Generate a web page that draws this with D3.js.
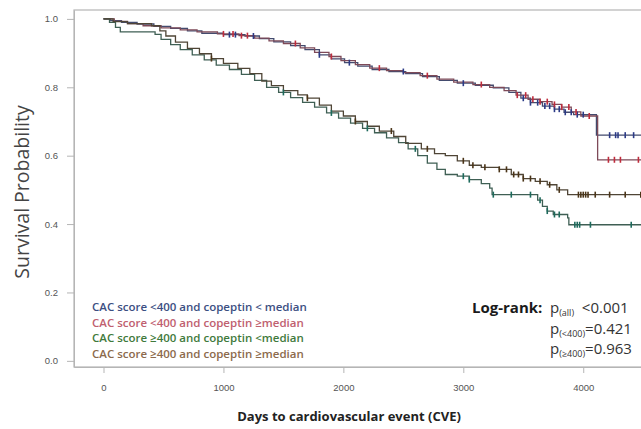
<!DOCTYPE html>
<html>
<head>
<meta charset="utf-8">
<script src="https://cdn.jsdelivr.net/npm/d3@7"></script>
<style>
  body { margin: 0; background: #fff; }
  svg { display: block; font-family: "Open Sans", "DejaVu Sans", sans-serif; }
</style>
</head>
<body>
<div id="chart"></div>
<script>
const width = 641, height = 429;

// Kaplan-Meier step points: [day, survival]
const lowLow = [[0,1],[60,0.995],[150,0.99],[280,0.985],[420,0.978],[560,0.972],[700,0.965],[820,0.958],[1000,0.954],[1180,0.95],[1300,0.942],[1420,0.933],[1560,0.922],[1680,0.91],[1800,0.895],[1900,0.883],[2010,0.872],[2120,0.862],[2240,0.852],[2380,0.846],[2520,0.84],[2660,0.831],[2800,0.82],[2950,0.812],[3100,0.806],[3250,0.798],[3380,0.785],[3480,0.768],[3560,0.755],[3660,0.745],[3760,0.736],[3840,0.727],[3920,0.72],[4110,0.66],[4600,0.66]];
const lowHigh = [[0,1],[90,0.993],[200,0.986],[330,0.98],[480,0.974],[640,0.968],[780,0.962],[950,0.956],[1130,0.951],[1260,0.944],[1380,0.936],[1500,0.928],[1640,0.915],[1760,0.902],[1880,0.89],[1980,0.878],[2100,0.866],[2220,0.856],[2360,0.849],[2500,0.843],[2640,0.834],[2780,0.824],[2920,0.815],[3080,0.808],[3220,0.8],[3340,0.79],[3440,0.777],[3540,0.765],[3640,0.758],[3740,0.75],[3820,0.742],[3900,0.728],[3980,0.716],[4120,0.588],[4600,0.588]];
const highLow = [[0,1],[50,0.99],[100,0.975],[140,0.962],[430,0.955],[480,0.94],[560,0.925],[640,0.91],[740,0.895],[840,0.88],[940,0.865],[1050,0.852],[1150,0.838],[1260,0.82],[1360,0.8],[1460,0.785],[1560,0.77],[1660,0.756],[1760,0.742],[1860,0.725],[1960,0.71],[2060,0.695],[2160,0.68],[2260,0.667],[2360,0.652],[2460,0.638],[2540,0.62],[2620,0.6],[2700,0.578],[2780,0.56],[2850,0.545],[2950,0.54],[3050,0.53],[3150,0.518],[3220,0.505],[3240,0.486],[3620,0.47],[3660,0.452],[3700,0.438],[3750,0.428],[3870,0.418],[3880,0.398],[4600,0.398]];
const highHigh = [[0,1],[80,0.992],[200,0.986],[400,0.98],[470,0.965],[520,0.95],[600,0.932],[700,0.914],[800,0.898],[900,0.884],[1000,0.87],[1120,0.855],[1220,0.84],[1320,0.818],[1400,0.805],[1500,0.79],[1620,0.778],[1700,0.768],[1800,0.748],[1900,0.73],[2000,0.716],[2100,0.7],[2200,0.686],[2300,0.672],[2420,0.656],[2520,0.636],[2650,0.62],[2760,0.606],[2850,0.6],[2950,0.585],[3050,0.572],[3150,0.566],[3300,0.56],[3400,0.545],[3500,0.533],[3600,0.525],[3700,0.515],[3780,0.5],[3870,0.486],[4600,0.486]];

// Censoring times (days)
const cLowLow = [1050,1100,1250,1800,2050,2500,3000,3500,3560,3620,3680,3720,3760,3800,3850,3900,3950,4000,4220,4270,4290,4350,4420];
const cLowHigh = [1000,1080,1150,1200,1600,1900,2300,2700,3150,3450,3520,3580,3640,3700,3760,3820,3880,3940,4050,4210,4260,4310,4460];
const cHighLow = [1500,1900,2200,2600,3000,3050,3250,3400,3560,3640,3700,3760,3800,3930,3950,3970,4060,4400];
const cHighHigh = [900,1700,2100,2400,2700,3000,3080,3180,3300,3360,3420,3460,3500,3560,3640,3720,3800,3960,3980,4000,4020,4040,4100,4220,4350,4480];

const groups = ["CAC score <400 and copeptin < median", "CAC score <400 and copeptin \u2265median", "CAC score \u2265400 and copeptin <median", "CAC score \u2265400 and copeptin \u2265median"];
const lineColors = ["#434b6e", "#7e4a58", "#3f5f54", "#4f4536"];
const markColors = ["#2b3a86", "#c02c3c", "#1d6a5c", "#4a3418"];
const legendColors = ["#3c4f82", "#c0606f", "#3f7a3c", "#8c6a4c"];
const xTicks = [0, 1000, 2000, 3000, 4000];
const yTicks = [0, 0.2, 0.4, 0.6, 0.8, 1.0];

const series = [lowLow, lowHigh, highLow, highHigh];
const censors = [cLowLow, cLowHigh, cHighLow, cHighHigh];

const svg = d3.select("#chart").append("svg")
    .attr("width", width)
    .attr("height", height);

const x = d3.scaleLinear().domain([-246, 4640]).range([74, 660]);
const y = d3.scaleLinear().domain([-0.018, 1.026]).range([367, 10]);

// plot frame
svg.append("rect")
    .attr("x", 74).attr("y", 10)
    .attr("width", 600).attr("height", 357)
    .attr("fill", "none")
    .attr("stroke", "#b5b5b5")
    .attr("stroke-width", 1.2);

// axes
const xAxis = svg.append("g")
    .attr("transform", "translate(0,367)")
    .call(d3.axisBottom(x).tickValues(xTicks).tickSize(6).tickSizeOuter(0).tickPadding(11).tickFormat(d3.format("d")));
const yAxis = svg.append("g")
    .attr("transform", "translate(74,0)")
    .call(d3.axisLeft(y).tickValues(yTicks).tickSize(7).tickSizeOuter(0).tickPadding(9).tickFormat(d3.format(".1f")));
[xAxis, yAxis].forEach(g => {
    g.select(".domain").attr("stroke", "#b5b5b5");
    g.selectAll(".tick line").attr("stroke", "#b5b5b5");
    g.selectAll(".tick text").attr("fill", "#555").style("font-size", "9.5px");
});

// step lines
const line = d3.line()
    .x(d => x(d[0]))
    .y(d => y(d[1]))
    .curve(d3.curveStepAfter);

const stepAt = (pts, t) => {
    let v = pts[0][1];
    for (const p of pts) { if (p[0] <= t) v = p[1]; }
    return v;
};

series.forEach((pts, i) => {
    svg.append("path")
        .datum(pts)
        .attr("fill", "none")
        .attr("stroke", lineColors[i])
        .attr("stroke-width", 1.3)
        .attr("d", line);
});

series.forEach((pts, i) => {
    svg.append("g")
        .selectAll("line")
        .data(censors[i])
        .enter().append("line")
        .attr("x1", d => x(d)).attr("x2", d => x(d))
        .attr("y1", d => y(stepAt(pts, d)) - 3)
        .attr("y2", d => y(stepAt(pts, d)) + 3)
        .attr("stroke", markColors[i])
        .attr("stroke-width", 1.6);
});

// legend
svg.append("g")
    .selectAll("text")
    .data(groups)
    .enter().append("text")
    .attr("x", 92)
    .attr("y", (d, i) => 311 + i * 15.5)
    .attr("fill", (d, i) => legendColors[i])
    .style("font-size", "11.5px")
    .style("font-weight", 600)
    .text(d => d);

// log-rank annotation
const lr = svg.append("g").style("font-size", "15px").attr("fill", "#333");
lr.append("text").attr("x", 472).attr("y", 313)
    .style("font-weight", 700).attr("fill", "#1a1a1a").text("Log-rank:");
const pRows = [["(all)", "  <0.001", 313], ["(<400)", "=0.421", 334], ["(\u2265400)", "=0.963", 354]];
pRows.forEach(r => {
    const t = lr.append("text").attr("x", 550).attr("y", r[2]);
    t.append("tspan").text("p");
    t.append("tspan").attr("dy", 3).style("font-size", "9px").text(r[0]);
    t.append("tspan").attr("dy", -3).attr("xml:space", "preserve").text(r[1]);
});

// axis titles
svg.append("text")
    .attr("x", 349).attr("y", 421)
    .attr("text-anchor", "middle")
    .style("font-size", "13px").style("font-weight", 700)
    .attr("fill", "#222")
    .text("Days to cardiovascular event (CVE)");
svg.append("text")
    .attr("transform", "translate(29,192) rotate(-90)")
    .attr("text-anchor", "middle")
    .style("font-size", "19.5px")
    .attr("fill", "#444")
    .text("Survival Probability");
</script>
</body>
</html>
